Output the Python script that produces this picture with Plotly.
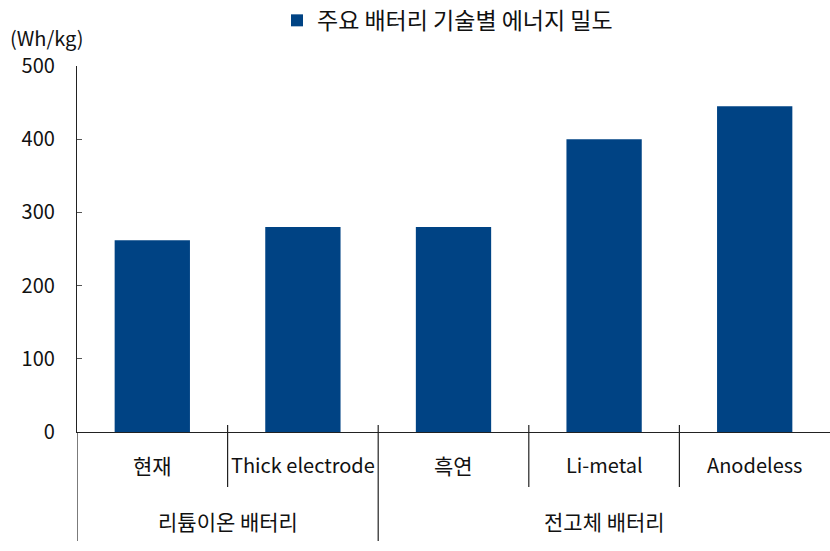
import plotly.graph_objects as go

# Energy density by battery technology
categories = ["현재", "Thick electrode", "흑연", "Li-metal", "Anodeless"]
groups = ["리튬이온 배터리", "리튬이온 배터리", "전고체 배터리", "전고체 배터리", "전고체 배터리"]
values = [262, 280, 280, 400, 445]
series_name = "주요 배터리 기술별 에너지 밀도"
y_ticks = [0, 100, 200, 300, 400, 500]
unit_label = "(Wh/kg)"

FONT = "Noto Sans CJK KR, Malgun Gothic, sans-serif"
BAR_COLOR = "#004384"
LINE_COLOR = "#222222"
TEXT_COLOR = "#111111"


def label_size(text):
    # Hangul labels read a touch larger than Latin ones
    return 21 if any("\uac00" <= ch <= "\ud7a3" for ch in text) else 20


x_pos = list(range(len(categories)))

fig = go.Figure(
    go.Bar(
        x=x_pos,
        y=values,
        name=series_name,
        marker=dict(color=BAR_COLOR, line=dict(width=0)),
        width=0.5,
        showlegend=True,
    )
)

shapes = []
annotations = []

# category labels (first row)
for i, name in enumerate(categories):
    annotations.append(dict(
        x=i, y=-0.090, xref="x", yref="paper", text=name, showarrow=False,
        xanchor="center", yanchor="middle",
        font=dict(size=label_size(name), color=TEXT_COLOR),
    ))

# group labels (second row) and group boundaries
group_spans = []
for i, g in enumerate(groups):
    if group_spans and group_spans[-1][0] == g:
        group_spans[-1][2] = i
    else:
        group_spans.append([g, i, i])

group_starts = {s for _, s, _ in group_spans}
for g, s, e in group_spans:
    annotations.append(dict(
        x=(s + e) / 2, y=-0.243, xref="x", yref="paper", text=g, showarrow=False,
        xanchor="center", yanchor="middle",
        font=dict(size=label_size(g), color=TEXT_COLOR),
    ))

# dividers between categories
for i in range(len(categories)):
    y_bottom = -0.298 if i in group_starts else -0.150
    shapes.append(dict(
        type="line", xref="x", yref="paper", x0=i - 0.5, x1=i - 0.5,
        y0=0.019 if i > 0 else 0, y1=y_bottom,
        line=dict(color=LINE_COLOR, width=1.2),
    ))

# unit label above the value axis
annotations.append(dict(
    x=-0.091, y=1.079, xref="paper", yref="paper", text=unit_label, showarrow=False,
    xanchor="left", yanchor="middle", font=dict(size=20, color=TEXT_COLOR),
))

fig.update_layout(
    width=830,
    height=551,
    margin=dict(l=77, r=0, t=66, b=119, autoexpand=False),
    paper_bgcolor="white",
    plot_bgcolor="white",
    font=dict(family=FONT, size=20, color=TEXT_COLOR),
    bargap=0.5,
    shapes=shapes,
    annotations=annotations,
    legend=dict(
        orientation="h", xref="paper", x=0.492, xanchor="center",
        yref="container", y=0.963, yanchor="middle",
        font=dict(size=23), itemwidth=30,
    ),
    xaxis=dict(
        range=[-0.5, len(categories) - 0.5],
        showticklabels=False,
        ticks="",
        showgrid=False,
        zeroline=False,
        showline=True,
        linecolor=LINE_COLOR,
        linewidth=1.2,
        fixedrange=True,
    ),
    yaxis=dict(
        range=[0, 500],
        tickvals=y_ticks,
        ticks="inside",
        ticklen=5,
        tickcolor="#555555",
        showgrid=False,
        zeroline=False,
        showline=True,
        linecolor=LINE_COLOR,
        linewidth=1.2,
        tickfont=dict(size=20),
        ticklabelstandoff=17,
        fixedrange=True,
    ),
)

fig.write_html("out.html")
